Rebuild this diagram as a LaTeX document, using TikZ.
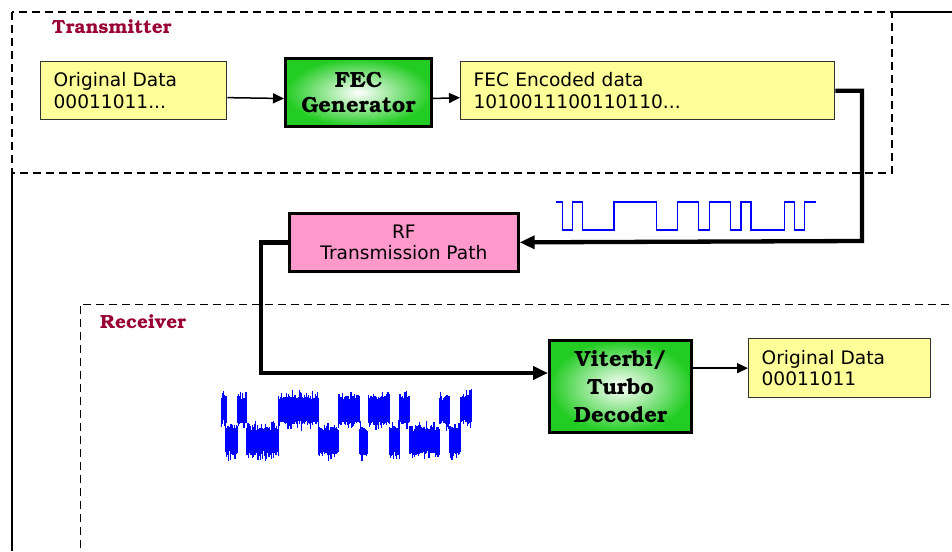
\documentclass[tikz,border=0pt]{standalone}
\usepackage[T1]{fontenc}
\usepackage{fontspec}
\setmainfont{DejaVu Sans}
\usetikzlibrary{arrows.meta}

\definecolor{datayellow}{HTML}{FFFF99}
\definecolor{rfpink}{HTML}{FF99CC}
\definecolor{fecgreen}{HTML}{22CC22}
\definecolor{titlered}{HTML}{990033}
\newcommand{\bkfont}{\fontencoding{T1}\fontfamily{pbk}\fontseries{db}\selectfont}

\begin{document}
\begin{tikzpicture}[
    x=1pt, y=-1pt,
    >=Latex,
    % --- node styles ---
    databox/.style = {rectangle, draw=black!80, line width=1.3pt, fill=datayellow,
                      anchor=north west, align=left, inner xsep=13pt,
                      font=\fontsize{18.6}{21.7}\selectfont},
    codebox/.style = {rectangle, draw=black, line width=3pt, anchor=north west,
                      inner color=white, outer color=fecgreen, align=center,
                      font=\bkfont\fontsize{22}{25}\selectfont},
    rfbox/.style   = {rectangle, draw=black, line width=2.7pt, fill=rfpink,
                      anchor=north west, align=center,
                      font=\fontsize{18.6}{21.7}\selectfont},
    grouplbl/.style = {anchor=base west, text=titlered, inner sep=0pt,
                       font=\bkfont\fontsize{19}{22}\selectfont},
    arrow/.style  = {-{Triangle[length=11pt,width=10pt]}, line width=1.5pt},
    link/.style   = {-{Triangle[length=15pt,width=13pt]}, line width=4.3pt},
    groupline/.style = {line width=1.5pt, dash pattern=on 8pt off 5pt},
    sig/.style    = {blue, line width=1.5pt},
    noisy/.style  = {blue, line width=1.3pt},
]
\useasboundingbox (0,0) rectangle (952,551);

%============ FRAME + GROUP BOXES ============
\draw[line width=1.3pt] (12,173) -- (12,551);
\draw[line width=1.3pt] (892,12) -- (952,12);
\draw[groupline] (12,12) rectangle (892,173);
\draw[groupline, line width=1pt] (80,548) -- (80,304) -- (952,304);

\node (txlbl) [grouplbl] at (52,34) {Transmitter};
\node (rxlbl) [grouplbl] at (100,328) {Receiver};

%============ TRANSMITTER ============
\node (origdata) [databox, text width=160pt, minimum height=58pt] at (40,61)
  {Original Data\\00011011...};

\node (fecgen) [codebox, minimum width=146pt, minimum height=68pt] at (284,57)
  {FEC\\Generator};

\node (fecenc) [databox, text width=348pt, minimum height=58pt] at (460,61)
  {FEC Encoded data\\1010011100110110...};

%============ CHANNEL ============
\node (rfpath) [rfbox, minimum width=229pt, minimum height=58pt] at (288,212)
  {RF\\Transmission Path};

%============ RECEIVER ============
\node (decoder) [codebox, minimum width=142pt, minimum height=92pt] at (548,339)
  {Viterbi/\\[3pt]Turbo\\[3pt]Decoder};

\node (recdata) [databox, text width=156pt, minimum height=59pt] at (748,338)
  {Original Data\\00011011};

%============ ARROWS ============
\draw[arrow] ([yshift=-7pt]origdata.east) -- ([yshift=-6pt]fecgen.west);
\draw[arrow] ([yshift=-6pt]fecgen.east) -- ([yshift=-7pt]fecenc.west);
\draw[arrow] (decoder.east |- recdata.west) -- (recdata.west);

% thick channel links
\coordinate (txturn) at (862,241);
\coordinate (rxturn) at (261,373);
\draw[link] (fecenc.east) -| (txturn) -- (rfpath.east);
\draw[link] (rfpath.west) -| (rxturn) -- (rxturn -| decoder.west);

%============ WAVEFORMS ============
% clean bit stream
\draw[sig] (556,202) -| (562.3,230) -| (572.3,202) -| (582.7,230) -| (614,202)
  -| (656.7,230) -| (677.3,202) -| (698.3,230) -| (709.3,202) -| (730.7,230)
  -| (741,202) -| (751,230) -| (784.3,202) -| (794.3,230) -| (804.3,202)
  -- (815.7,202);

% received bit stream with noise
\pgfmathsetseed{12}
\foreach \xa/\xb/\lv in {221.7/226/410, 226/237.7/441, 237.7/246.7/410, 246.7/278.3/441, 278.3/318.3/410, 318.3/338.3/441, 338.3/359.3/410, 359.3/368.3/441, 368.3/389.3/410, 389.3/400/441, 400/409.3/410, 409.3/440/441, 440/450/410, 450/461/441, 461/471.7/410}{
  \pgfmathtruncatemacro\nn{(\xb-\xa)/0.7}
  \foreach \k in {0,...,\nn}{
    \pgfmathsetmacro\px{\xa+0.7*\k}
    \pgfmathsetmacro\ya{\lv-10-4*rnd-8*rnd^5}
    \pgfmathsetmacro\yb{\lv+10+4*rnd+8*rnd^5}
    \draw[noisy] (\px,\ya) -- (\px,\yb);
  }
}

\end{tikzpicture}
\end{document}
